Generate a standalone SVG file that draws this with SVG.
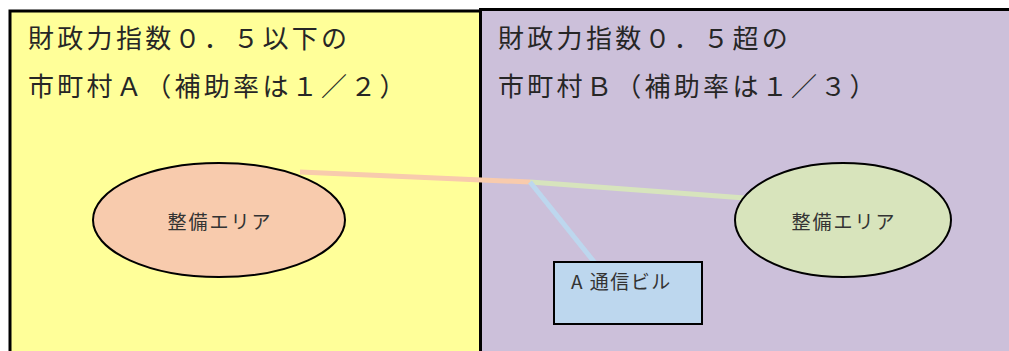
<svg xmlns="http://www.w3.org/2000/svg" width="1009" height="351" viewBox="0 0 1009 351">
<style>
.region{stroke:#000;stroke-width:3}
.node{stroke:#000;stroke-width:2}
.head{font-family:"Noto Sans CJK JP","Noto Sans",sans-serif;font-size:26px;letter-spacing:3.3px;fill:#262626}
.lbl{font-family:"Noto Sans CJK JP","Noto Sans",sans-serif;font-size:19px;letter-spacing:2px;fill:#333}
.conn{fill:none;stroke-width:5;stroke-linecap:butt}
</style>
<rect width="1009" height="351" fill="#fff"/>
<g id="regionA">
<rect class="region" x="10" y="11" width="472" height="360" fill="#FFFF99"/>
<text class="head" x="28" y="48">財政力指数０．５以下の</text>
<text class="head" x="28" y="96">市町村Ａ（補助率は１／２）</text>
</g>
<g id="regionB">
<rect class="region" x="480.5" y="9.5" width="540" height="360" fill="#CCC0DA"/>
<text class="head" x="498" y="48">財政力指数０．５超の</text>
<text class="head" x="498" y="96">市町村Ｂ（補助率は１／３）</text>
</g>
<g id="connectors">
<line class="conn" x1="300" y1="172" x2="530" y2="182" stroke="#F8CBAD"/>
<line class="conn" x1="530" y1="182" x2="745" y2="198" stroke="#D7E4BD"/>
<line class="conn" x1="530" y1="182" x2="595" y2="263" stroke="#BDD7EE"/>
</g>
<g id="areaA">
<ellipse class="node" cx="219" cy="220" rx="126" ry="57" fill="#F8CBAD"/>
<text class="lbl" x="220" y="229" text-anchor="middle">整備エリア</text>
</g>
<g id="areaB">
<ellipse class="node" cx="843" cy="220" rx="108" ry="57" fill="#D8E4BC"/>
<text class="lbl" x="844" y="229" text-anchor="middle">整備エリア</text>
</g>
<g id="building">
<rect class="node" x="554" y="262" width="148" height="62" fill="#BDD7EE"/>
<text class="lbl" x="571" y="289" style="font-size:19px;letter-spacing:1.5px">A 通信ビル</text>
</g>
</svg>
